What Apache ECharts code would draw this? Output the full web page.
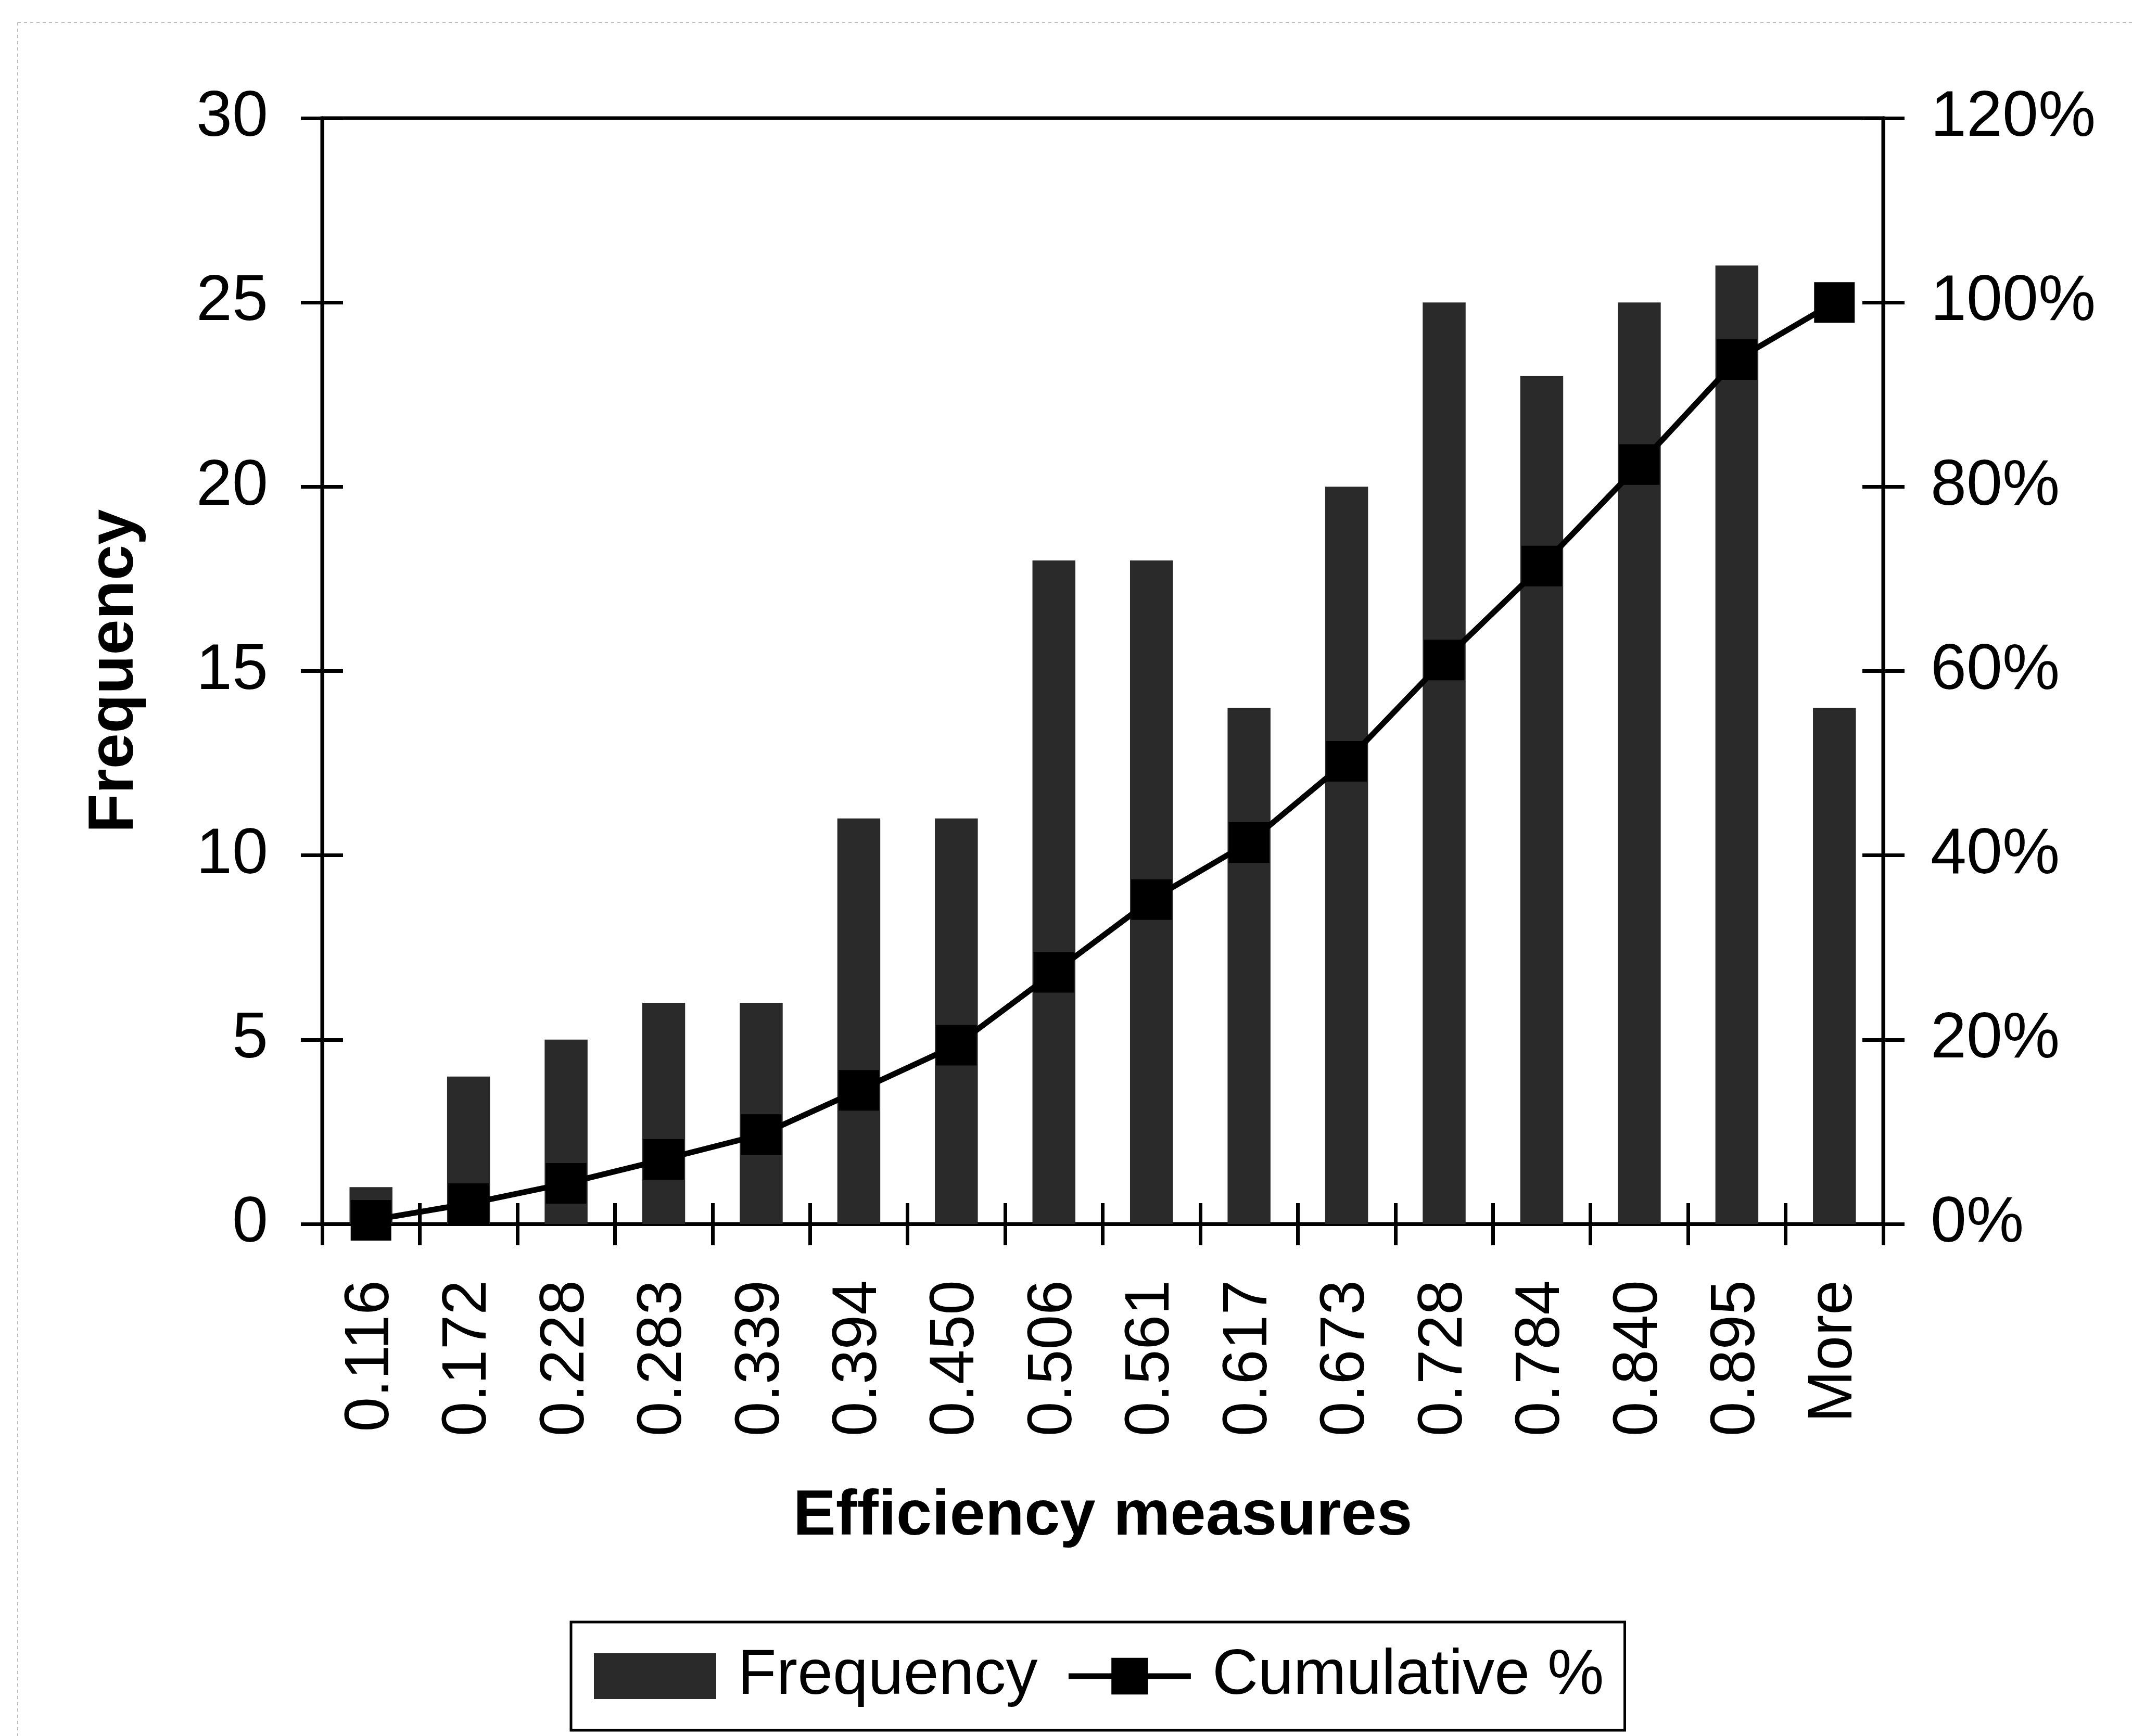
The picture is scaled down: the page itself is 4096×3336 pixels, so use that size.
<!DOCTYPE html>
<html><head><meta charset="utf-8">
<script src="https://cdn.jsdelivr.net/npm/echarts@6/dist/echarts.min.js"></script>
<style>html,body{margin:0;padding:0;background:#fff}#c{width:4096px;height:3336px}</style>
</head><body><div id="c"></div>
<script>
const categories = ['0.116','0.172','0.228','0.283','0.339','0.394','0.450','0.506','0.561','0.617','0.673','0.728','0.784','0.840','0.895','More'];
const frequency = [1,4,5,6,6,11,11,18,18,14,20,25,23,25,26,14];
const cumulativePct = [0.4,2.2,4.4,7.0,9.7,14.5,19.4,27.3,35.2,41.4,50.2,61.2,71.4,82.4,93.8,100];
const leftScale = {min:0, max:30, interval:5};
const rightScale = {min:0, max:120, interval:20};
const seriesNames = ['Frequency','Cumulative %'];
const axisTitles = {x:'Efficiency measures', y:'Frequency'};

const FONT = 'Liberation Sans';
const LW = 7;
const chart = echarts.init(document.getElementById('c'), null, {renderer:'canvas'});
const tickOut = {show:true, inside:false, length:41, lineStyle:{color:'#000', width:LW}};
const tickIn = {show:true, inside:true, length:40, lineStyle:{color:'#000', width:LW}};
const axLine = {show:true, lineStyle:{color:'#000', width:LW}};
chart.setOption({
  animation:false,
  backgroundColor:'#fff',
  textStyle:{fontFamily:FONT, color:'#000'},
  grid:{left:619, right:478, top:227, bottom:984, show:true, borderColor:'#000', borderWidth:LW, backgroundColor:'transparent'},
  legend:{
    left:1097, top:3117, orient:'horizontal',
    padding:[43,40,43,44], borderColor:'#000', borderWidth:5,
    itemWidth:235, itemHeight:88, itemGap:54,
    textStyle:{fontFamily:FONT, fontSize:122, color:'#000', padding:[0,0,0,36]},
    data:[
      {name:seriesNames[0], icon:'rect'},
      {name:seriesNames[1], lineStyle:{width:11, color:'#000'}}
    ]
  },
  xAxis:[
    {type:'category', data:categories, position:'bottom',
     axisLine:axLine, axisTick:tickOut,
     axisLabel:{rotate:90, interval:0, margin:108, fontSize:120, fontFamily:FONT, color:'#000'},
     name:axisTitles.x, nameLocation:'middle', nameGap:502,
     nameTextStyle:{fontSize:123, fontWeight:'bold', fontFamily:FONT, color:'#000'},
     splitLine:{show:false}},
    {type:'category', data:categories, position:'bottom', offset:0,
     axisLine:{show:false}, axisTick:tickIn, axisLabel:{show:false}, splitLine:{show:false}}
  ],
  yAxis:[
    {type:'value', position:'left', min:leftScale.min, max:leftScale.max, interval:leftScale.interval,
     axisLine:axLine, axisTick:tickOut, splitLine:{show:false},
     axisLabel:{margin:104, fontSize:124, fontFamily:FONT, color:'#000'},
     name:axisTitles.y, nameLocation:'middle', nameGap:336,
     nameTextStyle:{fontSize:123, fontWeight:'bold', fontFamily:FONT, color:'#000'}},
    {type:'value', position:'right', min:rightScale.min, max:rightScale.max, interval:rightScale.interval,
     axisLine:axLine, axisTick:tickOut, splitLine:{show:false},
     axisLabel:{margin:91, fontSize:124, fontFamily:FONT, color:'#000', formatter:'{value}%'}},
    {type:'value', position:'left', offset:0, min:leftScale.min, max:leftScale.max, interval:leftScale.interval,
     axisLine:{show:false}, axisTick:tickIn, axisLabel:{show:false}, splitLine:{show:false}},
    {type:'value', position:'right', offset:0, min:rightScale.min, max:rightScale.max, interval:rightScale.interval,
     axisLine:{show:false}, axisTick:tickIn, axisLabel:{show:false}, splitLine:{show:false}}
  ],
  series:[
    {name:seriesNames[0], type:'bar', data:frequency, xAxisIndex:0, yAxisIndex:0,
     barWidth:'44%', itemStyle:{color:'#2a2a2a'}, z:2},
    {name:seriesNames[1], type:'line', data:cumulativePct, xAxisIndex:0, yAxisIndex:1,
     symbol:'rect', symbolSize:78, showAllSymbol:true,
     lineStyle:{color:'#000', width:11}, itemStyle:{color:'#000'}, z:3}
  ],
  graphic:[
    {type:'line', shape:{x1:34, y1:43, x2:4096, y2:43}, style:{stroke:'#bbb', lineWidth:2, lineDash:[6,6]}},
    {type:'line', shape:{x1:34, y1:43, x2:34, y2:3336}, style:{stroke:'#bbb', lineWidth:2, lineDash:[6,6]}}
  ]
});
</script></body></html>
